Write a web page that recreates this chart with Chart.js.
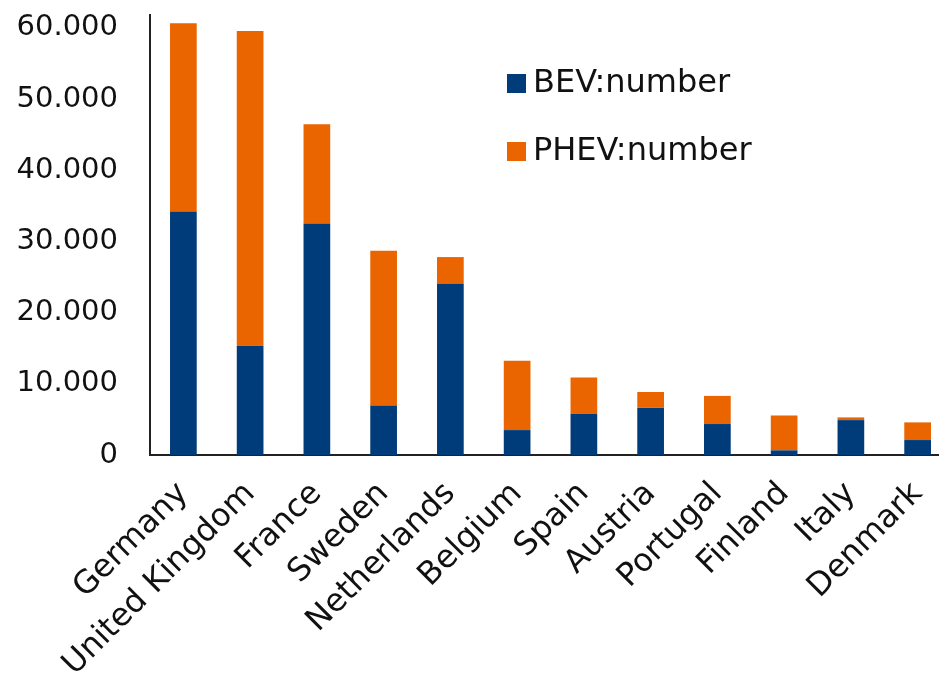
<!DOCTYPE html>
<html>
<head>
<meta charset="utf-8">
<script src="https://cdn.jsdelivr.net/npm/chart.js@4"></script>
<style>
    html, body { margin: 0; padding: 0; background: #fff; overflow: hidden; }
    #wrap { width: 951px; height: 684px; }
</style>
</head>
<body>
<div id="wrap"><canvas id="evChart" width="951" height="684"></canvas></div>
<script>
const countries = ['Germany', 'United Kingdom', 'France', 'Sweden', 'Netherlands', 'Belgium',
    'Spain', 'Austria', 'Portugal', 'Finland', 'Italy', 'Denmark'];
const bevValues = [34200, 15350, 32500, 6950, 24100, 3500, 5800, 6650, 4350, 650, 4900, 2100];
const phevValues = [26450, 44200, 13950, 21750, 3700, 9750, 5100, 2200, 3950, 4900, 380, 2480];
const yTicks = [0, 10000, 20000, 30000, 40000, 50000, 60000];

const BEV_COLOR = '#003B7A';
const PHEV_COLOR = '#EA6500';
const FONT = "'DejaVu Sans', sans-serif";

function dotThousands(v) {
    return String(v).replace(/\B(?=(\d{3})+(?!\d))/g, '.');
}

// legend drawn inside the plot, stacked vertically
const innerLegend = {
    id: 'innerLegend',
    afterDraw(chart) {
        const ctx = chart.ctx;
        const area = chart.chartArea;
        const x = area.left + 357;
        let y = area.top + 68;
        ctx.save();
        ctx.font = '32px ' + FONT;
        ctx.textBaseline = 'middle';
        chart.data.datasets.forEach(ds => {
            ctx.fillStyle = ds.backgroundColor;
            ctx.fillRect(x, y - 9, 19, 19);
            ctx.fillStyle = '#111';
            ctx.fillText(ds.label, x + 26, y + 1);
            y += 68;
        });
        ctx.restore();
    }
};

new Chart(document.getElementById('evChart'), {
    type: 'bar',
    data: {
        labels: countries,
        datasets: [
            { label: 'BEV:number', data: bevValues, backgroundColor: BEV_COLOR },
            { label: 'PHEV:number', data: phevValues, backgroundColor: PHEV_COLOR }
        ]
    },
    options: {
        responsive: false,
        animation: false,
        layout: { padding: { top: 15, left: 0, right: 0, bottom: 0 } },
        datasets: { bar: { barPercentage: 0.4, categoryPercentage: 1 } },
        plugins: {
            legend: { display: false },
            tooltip: { enabled: false }
        },
        scales: {
            x: {
                stacked: true,
                grid: { display: false, drawTicks: false },
                border: { display: true, color: '#222', width: 2 },
                ticks: {
                    autoSkip: false,
                    minRotation: 45,
                    maxRotation: 45,
                    padding: 20,
                    color: '#111',
                    font: { family: FONT, size: 32 }
                },
                afterFit(scale) {
                    scale.height = 229;
                    scale.paddingLeft = 0;
                    scale.paddingRight = 0;
                }
            },
            y: {
                stacked: true,
                min: 0,
                max: 61800,
                grid: { display: false, drawTicks: false },
                border: { display: true, color: '#222', width: 2 },
                afterBuildTicks(scale) {
                    scale.ticks = yTicks.map(v => ({ value: v }));
                },
                ticks: {
                    padding: 32,
                    color: '#111',
                    font: { family: FONT, size: 29 },
                    callback: v => dotThousands(v)
                },
                afterFit(scale) {
                    scale.width = 150;
                    scale.paddingTop = 0;
                    scale.paddingBottom = 0;
                }
            }
        }
    },
    plugins: [innerLegend]
});
</script>
</body>
</html>
